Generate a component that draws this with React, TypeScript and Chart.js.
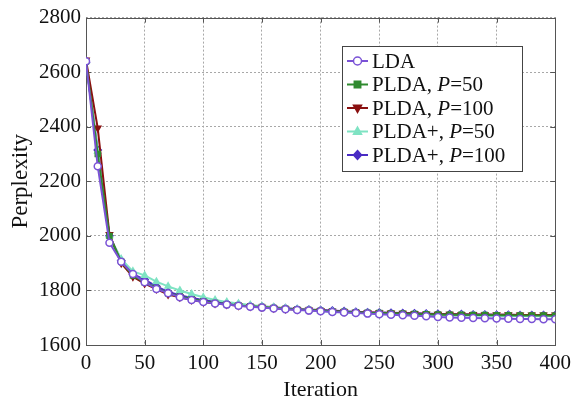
import React, { useEffect, useRef } from "react";
import { Chart, registerables } from "chart.js";
Chart.register(...registerables);

const iterations = [0,10,20,30,40,50,60,70,80,90,100,110,120,130,140,150,160,170,180,190,200,210,220,230,240,250,260,270,280,290,300,310,320,330,340,350,360,370,380,390,400];
const lda = [2640,2255,1975,1905,1860,1830,1805,1790,1775,1765,1758,1752,1748,1744,1740,1737,1734,1731,1728,1726,1724,1721,1719,1717,1715,1713,1711,1709,1707,1705,1703,1701,1700,1699,1698,1697,1696,1695,1695,1694,1694];
const plda50 = [2640,2300,2000,1905,1855,1830,1808,1790,1778,1768,1760,1754,1749,1745,1742,1739,1736,1733,1730,1728,1726,1724,1722,1720,1718,1717,1716,1715,1714,1713,1712,1711,1711,1710,1710,1709,1709,1708,1708,1708,1707];
const plda100 = [2645,2395,2005,1900,1850,1825,1805,1785,1775,1765,1758,1752,1748,1744,1741,1738,1735,1732,1730,1728,1726,1724,1722,1720,1719,1718,1717,1716,1715,1714,1713,1713,1712,1712,1711,1711,1711,1710,1710,1710,1710];
const pldaPlus50 = [2640,2310,2000,1915,1870,1855,1832,1815,1800,1787,1775,1765,1758,1752,1747,1742,1738,1734,1731,1728,1725,1722,1720,1718,1716,1714,1713,1712,1711,1710,1709,1708,1708,1707,1707,1706,1706,1706,1705,1705,1705];
const pldaPlus100 = [2635,2315,2000,1910,1860,1840,1815,1795,1782,1772,1765,1758,1753,1748,1744,1741,1738,1735,1732,1730,1728,1726,1724,1722,1720,1719,1718,1717,1716,1715,1714,1713,1713,1712,1712,1711,1711,1710,1710,1710,1710];

const legendLabels = [
  { pre: "LDA", italic: "", post: "" },
  { pre: "PLDA, ", italic: "P", post: "=50" },
  { pre: "PLDA, ", italic: "P", post: "=100" },
  { pre: "PLDA+, ", italic: "P", post: "=50" },
  { pre: "PLDA+, ", italic: "P", post: "=100" },
];

const seriesDefs = [
  { values: lda, color: "#7a52d6", style: "circle", fill: "#ffffff", rot: 0 },
  { values: plda50, color: "#2f8a2f", style: "rect", fill: "#2f8a2f", rot: 0 },
  { values: plda100, color: "#8a1010", style: "triangle", fill: "#8a1010", rot: 180 },
  { values: pldaPlus50, color: "#7fe3c3", style: "triangle", fill: "#7fe3c3", rot: 0 },
  { values: pldaPlus100, color: "#4a2cc4", style: "rectRot", fill: "#4a2cc4", rot: 0 },
];

const FONT = "'Liberation Serif', 'DejaVu Serif', serif";
const LEG_SIZE = 21;

function drawPoint(ctx: CanvasRenderingContext2D, style: string, rot: number, r: number, x: number, y: number) {
  ctx.save();
  ctx.translate(x, y);
  ctx.rotate((rot * Math.PI) / 180);
  ctx.beginPath();
  if (style === "circle") {
    ctx.arc(0, 0, r, 0, Math.PI * 2);
  } else if (style === "rect") {
    ctx.rect(-r * 0.8, -r * 0.8, r * 1.6, r * 1.6);
  } else if (style === "triangle") {
    ctx.moveTo(0, -r * 1.1); ctx.lineTo(r, r * 0.7); ctx.lineTo(-r, r * 0.7); ctx.closePath();
  } else if (style === "rectRot") {
    ctx.moveTo(0, -r * 1.1); ctx.lineTo(r, 0); ctx.lineTo(0, r * 1.1); ctx.lineTo(-r, 0); ctx.closePath();
  }
  ctx.fill();
  ctx.stroke();
  ctx.restore();
}

const frameAndLegend = {
  id: "frameAndLegend",
  beforeDatasetsDraw(chart: any) {
    const { ctx, chartArea: a } = chart;
    ctx.save();
    ctx.strokeStyle = "#555";
    ctx.lineWidth = 1;
    ctx.strokeRect(Math.round(a.left) + 0.5, Math.round(a.top) + 0.5, Math.round(a.right - a.left), Math.round(a.bottom - a.top));
    const xs = chart.scales.x, ys = chart.scales.y;
    ctx.beginPath();
    xs.ticks.forEach((t: any) => {
      const px = Math.round(xs.getPixelForValue(t.value)) + 0.5;
      ctx.moveTo(px, a.top); ctx.lineTo(px, a.top + 5);
      ctx.moveTo(px, a.bottom); ctx.lineTo(px, a.bottom - 5);
    });
    ys.ticks.forEach((t: any) => {
      const py = Math.round(ys.getPixelForValue(t.value)) + 0.5;
      ctx.moveTo(a.right, py); ctx.lineTo(a.right - 5, py);
      ctx.moveTo(a.left, py); ctx.lineTo(a.left + 5, py);
    });
    ctx.stroke();
    ctx.restore();
  },
  afterDraw(chart: any) {
    const { ctx, chartArea: a } = chart;
    const bx = Math.round(a.right - 213), by = Math.round(a.top + 28), bw = 180, bh = 125;
    ctx.save();
    ctx.fillStyle = "#ffffff";
    ctx.fillRect(bx, by, bw, bh);
    ctx.strokeStyle = "#444";
    ctx.lineWidth = 1;
    ctx.strokeRect(bx + 0.5, by + 0.5, bw, bh);
    const rowH = 23.5;
    chart.data.datasets.forEach((ds: any, i: number) => {
      const cy = by + 15 + i * rowH;
      ctx.strokeStyle = ds.borderColor;
      ctx.lineWidth = 2;
      ctx.beginPath();
      ctx.moveTo(bx + 5, cy); ctx.lineTo(bx + 26, cy);
      ctx.stroke();
      ctx.fillStyle = ds.pointBackgroundColor;
      ctx.strokeStyle = ds.borderColor;
      ctx.lineWidth = 1.5;
      drawPoint(ctx, ds.pointStyle, ds.pointRotation || 0, 4, bx + 15.5, cy);
      const lab = legendLabels[i];
      ctx.fillStyle = "#111";
      ctx.textBaseline = "middle";
      let x = bx + 30;
      ctx.font = `${LEG_SIZE}px ${FONT}`;
      ctx.fillText(lab.pre, x, cy + 1);
      x += ctx.measureText(lab.pre).width;
      if (lab.italic) {
        ctx.font = `italic ${LEG_SIZE}px ${FONT}`;
        ctx.fillText(lab.italic, x, cy + 1);
        x += ctx.measureText(lab.italic).width;
        ctx.font = `${LEG_SIZE}px ${FONT}`;
        ctx.fillText(lab.post, x, cy + 1);
      }
    });
    ctx.restore();
  },
};

export default function App() {
  const ref = useRef<HTMLCanvasElement>(null);
  useEffect(() => {
    if (!ref.current) return;
    const chart = new Chart(ref.current, {
      type: "line",
      data: {
        datasets: seriesDefs.map((s, i) => ({
          label: legendLabels[i].pre + legendLabels[i].italic + legendLabels[i].post,
          data: iterations.map((x, j) => ({ x, y: s.values[j] })),
          borderColor: s.color,
          backgroundColor: s.fill,
          pointBackgroundColor: s.fill,
          pointBorderColor: s.color,
          pointStyle: s.style as any,
          pointRotation: s.rot,
          pointRadius: 3.5,
          pointBorderWidth: 1.5,
          borderWidth: 2,
          tension: 0,
        })),
      },
      options: {
        animation: false,
        responsive: false,
        maintainAspectRatio: false,
        layout: { padding: { top: 17, right: 20, left: 0, bottom: 0 } },
        plugins: { legend: { display: false }, tooltip: { enabled: false } },
        scales: {
          x: {
            type: "linear",
            min: 0,
            max: 400,
            ticks: { stepSize: 50, color: "#111", font: { family: FONT, size: 21 }, padding: 6, maxRotation: 0, callback: (v: any) => String(v) },
            grid: { color: "#a8a8a8", lineWidth: 1, drawTicks: false },
            border: { display: false, dash: [2, 2] } as any,
            title: { display: true, text: "Iteration", color: "#111", font: { family: FONT, size: 22 }, padding: { top: 0, bottom: 0 } },
            afterFit: (s: any) => { s.height = 58; },
          },
          y: {
            min: 1600,
            max: 2800,
            ticks: { stepSize: 200, color: "#111", font: { family: FONT, size: 21 }, padding: 5, callback: (v: any) => String(v) },
            grid: { color: "#a8a8a8", lineWidth: 1, drawTicks: false },
            border: { display: false, dash: [2, 2] } as any,
            title: { display: true, text: "Perplexity", color: "#111", font: { family: FONT, size: 23 }, padding: { top: 7, bottom: 0 } },
            afterFit: (s: any) => { s.width = 86; },
          },
        },
      },
      plugins: [frameAndLegend],
    });
    return () => chart.destroy();
  }, []);
  return (
    <div style={{ position: "fixed", left: 0, top: 0, width: 577, height: 403, background: "#fff" }}>
      <canvas ref={ref} width={577} height={403} style={{ display: "block" }} />
    </div>
  );
}
